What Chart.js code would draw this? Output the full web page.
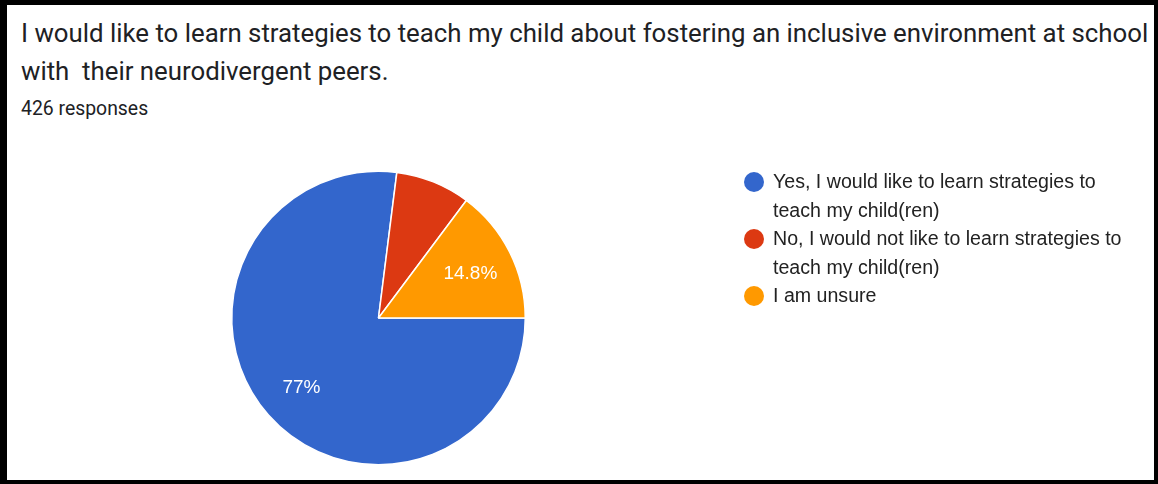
<!DOCTYPE html>
<html>
<head>
<meta charset="utf-8">
<script src="https://cdn.jsdelivr.net/npm/chart.js@4.4.0/dist/chart.umd.min.js"></script>
<style>
  html, body { margin: 0; padding: 0; background: #000; }
  #wrap { position: relative; width: 1158px; height: 484px; background: #000; overflow: hidden; }
  #card { position: absolute; left: 7px; top: 5px; width: 1147px; height: 475px; background: #fff; }
  #title { position: absolute; left: 21px; top: 14px; font-family: Roboto, sans-serif; font-size: 25.8px; line-height: 38px; color: #202124; white-space: pre; }
  #count { position: absolute; left: 21px; top: 98px; font-family: Roboto, sans-serif; font-size: 19.4px; line-height: 22px; color: #202124; }
  #chart { position: absolute; left: 0; top: 0; }
</style>
</head>
<body>
<div id="wrap">
  <div id="card"></div>
  <div id="title"></div>
  <div id="count"></div>
  <canvas id="chart" width="1158" height="484"></canvas>
</div>
<script>
const titleLines = ['I would like to learn strategies to teach my child about fostering an inclusive environment at school', 'with  their neurodivergent peers.'];
const labels = [
    'Yes, I would like to learn strategies to teach my child(ren)',
    'No, I would not like to learn strategies to teach my child(ren)',
    'I am unsure'
];
const responses = [328, 35, 63];
const colors = ['#3366cc', '#dc3912', '#ff9900'];

const total = responses.reduce((a, b) => a + b, 0);
document.getElementById('title').textContent = titleLines.join('\n');
document.getElementById('count').textContent = total + ' responses';

function pct(v) {
    let s = (v / total * 100).toFixed(1);
    if (s.endsWith('.0')) s = s.slice(0, -2);
    return s + '%';
}

// percentage text inside the big slices
const sliceLabels = {
    id: 'sliceLabels',
    afterDatasetsDraw(chart) {
        const ctx = chart.ctx;
        const meta = chart.getDatasetMeta(0);
        ctx.save();
        ctx.fillStyle = '#fff';
        ctx.font = '19px Arial, "Liberation Sans", sans-serif';
        ctx.textAlign = 'center';
        ctx.textBaseline = 'middle';
        meta.data.forEach((arc, i) => {
            const v = responses[i];
            if (v / total < 0.1) return;
            const mid = (arc.startAngle + arc.endAngle) / 2;
            const r = arc.outerRadius * 0.7;
            ctx.fillText(pct(v), arc.x + Math.cos(mid) * r, arc.y + Math.sin(mid) * r + 2);
        });
        ctx.restore();
    }
};

// legend on the right with wrapped lines
const sideLegend = {
    id: 'sideLegend',
    afterDraw(chart) {
        const ctx = chart.ctx;
        const x0 = 754, textX = 773, lineH = 28.5, maxW = 362;
        let y = 182;
        ctx.save();
        ctx.font = '19.6px Arial, "Liberation Sans", sans-serif';
        ctx.textBaseline = 'middle';
        labels.forEach((lab, i) => {
            ctx.fillStyle = colors[i];
            ctx.beginPath();
            ctx.arc(x0, y, 10, 0, Math.PI * 2);
            ctx.fill();
            const words = lab.split(' ');
            const lines = [];
            let cur = '';
            words.forEach(w => {
                const test = cur ? cur + ' ' + w : w;
                if (ctx.measureText(test).width > maxW && cur) {
                    lines.push(cur);
                    cur = w;
                } else {
                    cur = test;
                }
            });
            lines.push(cur);
            ctx.fillStyle = '#222';
            lines.forEach(l => {
                ctx.fillText(l, textX, y + 1);
                y += lineH;
            });
        });
        ctx.restore();
    }
};

new Chart(document.getElementById('chart').getContext('2d'), {
    type: 'pie',
    data: {
        labels: labels,
        datasets: [{
            data: responses,
            backgroundColor: colors,
            borderColor: '#fff',
            borderWidth: 1.5
        }]
    },
    options: {
        responsive: false,
        animation: false,
        rotation: 90,
        layout: { padding: { left: 231, top: 170, right: 632, bottom: 18 } },
        plugins: {
            legend: { display: false },
            tooltip: { enabled: false }
        }
    },
    plugins: [sliceLabels, sideLegend]
});
</script>
</body>
</html>
